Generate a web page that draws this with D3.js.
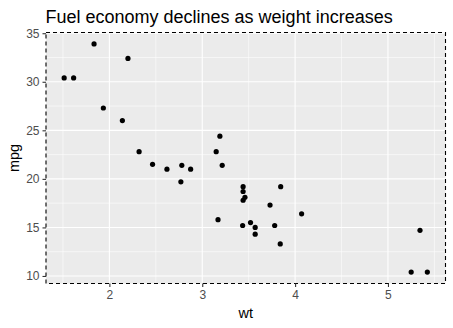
<!DOCTYPE html>
<html><head><meta charset="utf-8">
<script src="https://cdn.jsdelivr.net/npm/d3@7"></script>
<style>body{margin:0;background:#fff}svg{display:block;font-family:"Liberation Sans",Arial,sans-serif}</style>
</head><body>
<svg id="c" width="453" height="328"></svg>
<script>
const wt = [2.620,2.875,2.320,3.215,3.440,3.460,3.570,3.190,3.150,3.440,3.440,4.070,3.730,3.780,5.250,5.424,5.345,2.200,1.615,1.835,2.465,3.520,3.435,3.840,3.845,1.935,2.140,1.513,3.170,2.770,3.570,2.780];
const mpg = [21.0,21.0,22.8,21.4,18.7,18.1,14.3,24.4,22.8,19.2,17.8,16.4,17.3,15.2,10.4,10.4,14.7,32.4,30.4,33.9,21.5,15.5,15.2,13.3,19.2,27.3,26.0,30.4,15.8,19.7,15.0,21.4];
const xTicks = [2,3,4,5];
const yTicks = [10,15,20,25,30,35];
const xMinor = [1.5,2.5,3.5,4.5,5.5];
const yMinor = [12.5,17.5,22.5,27.5,32.5];

const svg = d3.select("#c");
const L=46, R=445.5, T=32.5, B=283.5;
const xr = d3.extent(wt), yr = d3.extent(mpg);
const xp = (xr[1]-xr[0])*0.05, yp=(yr[1]-yr[0])*0.05;
const x = d3.scaleLinear().domain([xr[0]-xp, xr[1]+xp]).range([L,R]);
const y = d3.scaleLinear().domain([yr[0]-yp, yr[1]+yp]).range([B,T]);

svg.append("rect").attr("x",L).attr("y",T).attr("width",R-L).attr("height",B-T).attr("fill","#EBEBEB");
const g = svg.append("g");
g.selectAll(".xm").data(xMinor.filter(v=>x(v)>L&&x(v)<R)).join("line").attr("x1",d=>x(d)).attr("x2",d=>x(d)).attr("y1",T).attr("y2",B).attr("stroke","#fff").attr("stroke-width",0.55);
g.selectAll(".ym").data(yMinor).join("line").attr("y1",d=>y(d)).attr("y2",d=>y(d)).attr("x1",L).attr("x2",R).attr("stroke","#fff").attr("stroke-width",0.55);
g.selectAll(".xM").data(xTicks).join("line").attr("x1",d=>x(d)).attr("x2",d=>x(d)).attr("y1",T).attr("y2",B).attr("stroke","#fff").attr("stroke-width",1.1);
g.selectAll(".yM").data(yTicks).join("line").attr("y1",d=>y(d)).attr("y2",d=>y(d)).attr("x1",L).attr("x2",R).attr("stroke","#fff").attr("stroke-width",1.1);

svg.append("g").selectAll("circle").data(wt.map((w,i)=>[w,mpg[i]])).join("circle")
  .attr("cx",d=>x(d[0])).attr("cy",d=>y(d[1])).attr("r",2.6).attr("fill","#000");

svg.append("rect").attr("x",L).attr("y",T).attr("width",R-L).attr("height",B-T).attr("fill","none")
  .attr("stroke","#000").attr("stroke-width",1.1).attr("stroke-dasharray","4,3");

const xa = svg.append("g").attr("transform",`translate(0,${B})`).call(d3.axisBottom(x).tickValues(xTicks).tickSize(3.5).tickPadding(3).tickFormat(d3.format("d")));
const ya = svg.append("g").attr("transform",`translate(${L},0)`).call(d3.axisLeft(y).tickValues(yTicks).tickSize(3.5).tickPadding(3).tickFormat(d3.format("d")));
[xa,ya].forEach(a=>{a.select(".domain").remove();a.selectAll("line").attr("stroke","#333").attr("stroke-width",1.1);a.selectAll("text").attr("fill","#4D4D4D").attr("font-size","12px").attr("font-family","Liberation Sans, Arial, sans-serif");});

svg.append("text").attr("x",L-0.5).attr("y",23).attr("font-size","18px").attr("fill","#000").text("Fuel economy declines as weight increases");
svg.append("text").attr("x",(L+R)/2).attr("y",318).attr("text-anchor","middle").attr("font-size","14.5px").attr("fill","#000").text("wt");
svg.append("text").attr("transform",`translate(19,${(T+B)/2}) rotate(-90)`).attr("text-anchor","middle").attr("font-size","14.5px").attr("fill","#000").text("mpg");
</script>
</body></html>
